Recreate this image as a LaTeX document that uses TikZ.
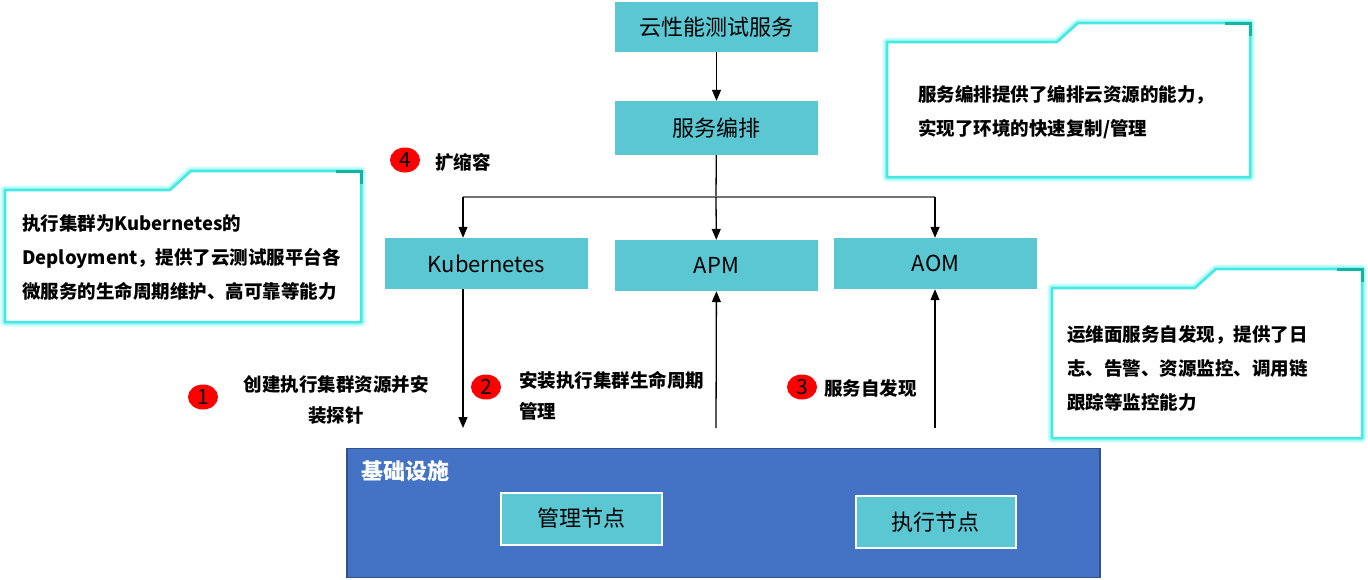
\documentclass[tikz,border=0pt]{standalone}
\usepackage{fontspec}
\setmainfont{Noto Sans CJK SC}
\usetikzlibrary{arrows.meta,shapes.geometric}
\definecolor{boxcyan}{RGB}{91,199,211}
\definecolor{infrablue}{RGB}{68,114,196}
\definecolor{infraedge}{RGB}{47,82,143}
\definecolor{glowcyan}{RGB}{110,245,240}
\definecolor{edgecyan}{RGB}{70,232,226}
\definecolor{darkteal}{RGB}{20,180,165}
\tikzset{
	cyanbox/.style={fill=boxcyan, minimum width=203pt, minimum height=51pt, inner sep=0pt, font=\fontsize{22}{26}\selectfont},
	redmark/.style={ellipse, fill=red, minimum width=30pt, minimum height=25pt, inner sep=0pt, font=\fontsize{21}{21}\selectfont},
	steplabel/.style={font=\bfseries\fontsize{18.5}{31}\selectfont, inner sep=0pt},
	notetext/.style={font=\bfseries\fontsize{18.5}{34}\selectfont, align=left, anchor=west, inner sep=0pt},
	flow/.style={line width=1.3pt, -{Triangle[length=11pt,width=9pt]}},
}
\def\calloutframe(#1,#2,#3,#4,#5){%
	\draw[line width=9pt, color=glowcyan, opacity=0.35, line join=round] (#1,#2) -- (#5,#2) -- ({#5+21},{#2-19}) -- (#3,{#2-19}) -- (#3,#4) -- (#1,#4) -- cycle;
	\draw[line width=5pt, color=glowcyan, opacity=0.6, line join=round] (#1,#2) -- (#5,#2) -- ({#5+21},{#2-19}) -- (#3,{#2-19}) -- (#3,#4) -- (#1,#4) -- cycle;
	\draw[line width=2.5pt, color=edgecyan, fill=white, line join=round] (#1,#2) -- (#5,#2) -- ({#5+21},{#2-19}) -- (#3,{#2-19}) -- (#3,#4) -- (#1,#4) -- cycle;
	\draw[line width=3pt, color=darkteal] ({#3-25},{#2-19}) -- (#3,{#2-19}) -- (#3,{#2-6});
}

\begin{document}
\begin{tikzpicture}[x=1pt, y=-1pt]
			%%%%% START %%%%%
			\useasboundingbox (0,0) rectangle (1368,579);
			
			\node[cyanbox, minimum height=50pt] (cloudsvc) at (716.5, 27) {云性能测试服务};
			\node[cyanbox, minimum height=54pt] (orch) at (716.5, 128) {服务编排};
			
			\node[cyanbox] (k8s) at (486.5, 263.5) {Kubernetes};
			\node[cyanbox] (apm) at (716.5, 265.5) {APM};
			\node[cyanbox] (aom) at (935.5, 263.5) {AOM};
			
			\draw[flow] (cloudsvc) -- (orch);
			
			\coordinate (fork) at (716, 197);
			\coordinate (k8sturn) at (463, 197);
			\coordinate (aomturn) at (935, 197);
			\draw[line width=1.3pt] (orch) -- (fork);
			\draw[line width=1.6pt, color=black!55] (k8sturn) -- (aomturn);
			\draw[flow] (k8sturn) -- (k8sturn |- k8s.north);
			\draw[flow] (fork) -- (apm);
			\draw[flow] (aomturn) -- (aomturn |- aom.north);
			
			\node[draw=infraedge, fill=infrablue, line width=1.5pt, minimum width=753pt, minimum height=129pt, inner sep=0pt] (infra) at (723.5, 513) {};
			\node[anchor=west, text=white, inner sep=0pt, font=\bfseries\fontsize{22}{22}\selectfont] (infralabel) at (361, 471) {基础设施};
			\node[cyanbox, draw=white, line width=2pt, minimum width=161pt, minimum height=52pt] (mgmt) at (581, 518.5) {管理节点};
			\node[cyanbox, draw=white, line width=2pt, minimum width=160pt, minimum height=52pt] (exec) at (935.5, 522) {执行节点};
			
			\coordinate (k8sfoot) at (463, 428);
			\coordinate (apmfoot) at (716, 428);
			\coordinate (aomfoot) at (935, 428);
			\draw[flow] (k8sfoot |- k8s.south) -- (k8sfoot);
			\draw[flow] (apmfoot) -- (apm);
			\draw[flow] (aomfoot) -- (aomfoot |- aom.south);
			
			\node[redmark] (markA) at (203, 397) {1};
			\node[steplabel, align=center] (stepA) at (336, 399.5) {创建执行集群资源并安\\装探针};
			\node[redmark] (markB) at (486, 387) {2};
			\node[steplabel, align=left, anchor=west] (stepB) at (519, 396) {安装执行集群生命周期\\管理};
			\node[redmark] (markC) at (802, 387) {3};
			\node[steplabel, anchor=west] (stepC) at (824, 388) {服务自发现};
			\node[redmark] (markD) at (405, 160) {4};
			\node[steplabel, anchor=west] (stepD) at (435, 162) {扩缩容};
			
			\calloutframe(5,190,361,322,170)
			\node[notetext] (noteA) at (22, 257) {执行集群为Kubernetes的\\Deployment，提供了云测试服平台各\\微服务的生命周期维护、高可靠等能力};
			
			\calloutframe(887,42,1250,177,1057)
			\node[notetext] (noteB) at (918, 112.5) {服务编排提供了编排云资源的能力，\\实现了环境的快速复制/管理};
			
			\calloutframe(1052,288,1362,438,1195)
			\node[notetext] (noteC) at (1067, 368) {运维面服务自发现，提供了日\\志、告警、资源监控、调用链\\跟踪等监控能力};
			
			%%%%% END %%%%%
		\end{tikzpicture}
\end{document}
